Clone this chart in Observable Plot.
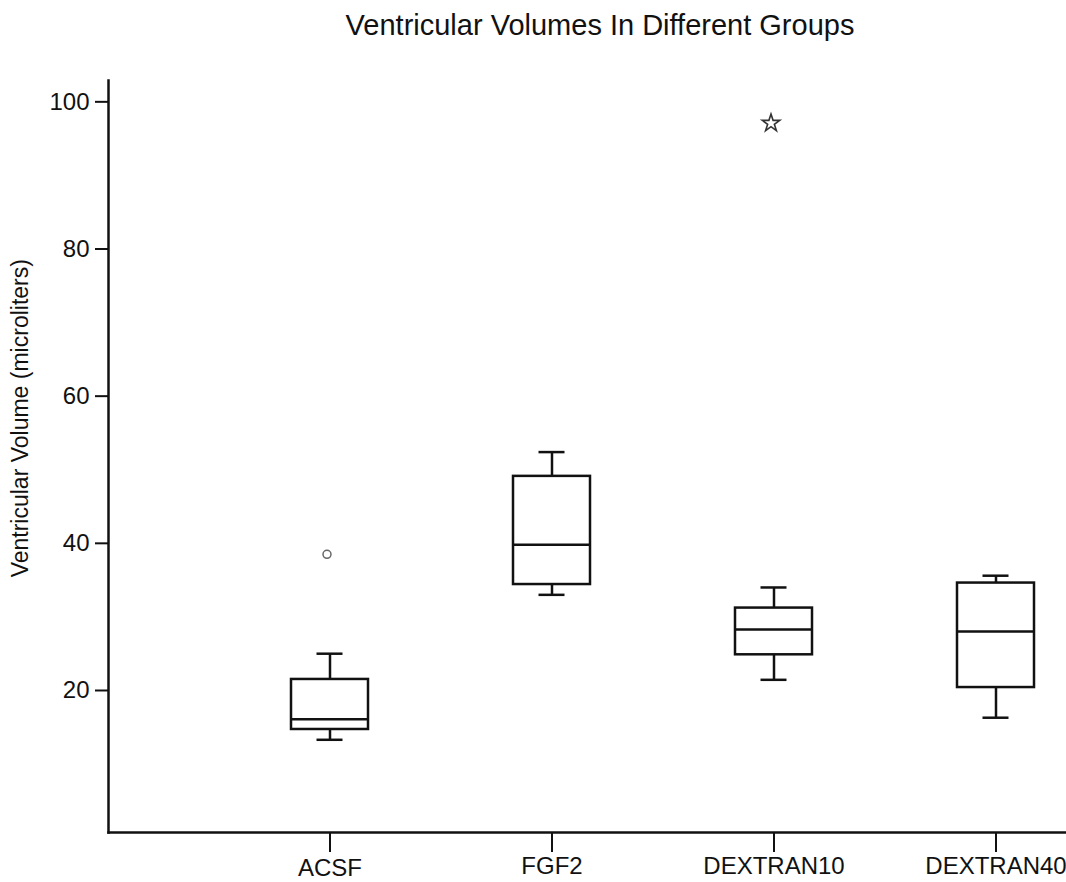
<!DOCTYPE html>
<html>
<head>
<meta charset="utf-8">
<script src="https://cdn.jsdelivr.net/npm/d3@7"></script>
<script src="https://cdn.jsdelivr.net/npm/@observablehq/plot@0.6"></script>
<style>
  body { margin: 0; background: #fff; font-family: "Liberation Sans", Arial, sans-serif; }
  #title { height: 50px; line-height: 50px; padding-left: 134px; text-align: center; font-size: 29px; color: #111; box-sizing: border-box; width: 1066px; }
  svg { display: block; }
</style>
</head>
<body>
<div id="title">Ventricular Volumes In Different Groups</div>
<div id="chart"></div>
<script>
const categories = ["ACSF", "FGF2", "DEXTRAN10", "DEXTRAN40"];
const whiskerLow = [13.3, 33.0, 21.45, 16.3];
const quartile1 = [14.7, 34.4, 24.85, 20.4];
const medians = [16.1, 39.8, 28.3, 28.0];
const quartile3 = [21.5, 49.1, 31.2, 34.6];
const whiskerHigh = [25.0, 52.4, 34.0, 35.6];

const outlierGroups = ["ACSF", "DEXTRAN10"];
const outlierValues = [38.5, 97.1];
const outlierSymbols = ["circle", "star"];

const yTicks = [20, 40, 60, 80, 100];
const yLabel = "Ventricular Volume (microliters)";
const yLabelAt = 57;

const boxes = categories.map((c, i) => ({
  cat: c, lo: whiskerLow[i], q1: quartile1[i], med: medians[i], q3: quartile3[i], hi: whiskerHigh[i]
}));
const outliers = outlierGroups.map((g, i) => ({cat: g, v: outlierValues[i], s: outlierSymbols[i]}));

const sw = 2.5;
const chart = Plot.plot({
  width: 1066,
  height: 832,
  marginLeft: 108,
  marginRight: 0,
  marginTop: 30,
  marginBottom: 50,
  style: {fontFamily: "'Liberation Sans', Arial, sans-serif", color: "#111", background: "#fff"},
  x: {type: "band", domain: categories, range: [146.5, 1179.5], padding: 0.653, axis: null},
  y: {domain: [0.7, 102.9], axis: null},
  marks: [
    Plot.axisY(yTicks, {tickSize: 13, tickPadding: 6, fontSize: 24, strokeWidth: 2, label: null}),
    Plot.text([yLabelAt], {y: d => d, text: () => yLabel, frameAnchor: "left", dx: -88, rotate: -90, textAnchor: "middle", fontSize: 23, fill: "#111"}),
    Plot.axisX(["FGF2", "DEXTRAN10", "DEXTRAN40"], {tickSize: 20, tickPadding: 4, fontSize: 24, strokeWidth: 2, label: null}),
    Plot.axisX(["ACSF"], {tickSize: 20, tickPadding: 6, fontSize: 24, strokeWidth: 2, label: null}),
    Plot.frame({anchor: "left", stroke: "#111", strokeWidth: sw}),
    Plot.frame({anchor: "bottom", stroke: "#111", strokeWidth: sw}),
    Plot.ruleX(boxes, {x: "cat", y1: "q3", y2: "hi", stroke: "#111", strokeWidth: sw}),
    Plot.ruleX(boxes, {x: "cat", y1: "q1", y2: "lo", stroke: "#111", strokeWidth: sw}),
    Plot.tickY(boxes, {x: "cat", y: "hi", stroke: "#111", strokeWidth: sw, insetLeft: 25.5, insetRight: 25.5}),
    Plot.tickY(boxes, {x: "cat", y: "lo", stroke: "#111", strokeWidth: sw, insetLeft: 25.5, insetRight: 25.5}),
    Plot.barY(boxes, {x: "cat", y1: "q1", y2: "q3", fill: "white", stroke: "#111", strokeWidth: sw}),
    Plot.tickY(boxes, {x: "cat", y: "med", stroke: "#111", strokeWidth: sw}),
    Plot.dot(outliers.filter(d => d.s === "circle"), {x: "cat", y: "v", r: 4, stroke: "#666", strokeWidth: 1.5, fill: "none", dx: -3}),
    Plot.dot(outliers.filter(d => d.s === "star"), {x: "cat", y: "v", symbol: "star", r: 5.5, stroke: "#333", strokeWidth: 1.6, fill: "none", dx: -3})
  ]
});
document.getElementById("chart").appendChild(chart);
</script>
</body>
</html>
